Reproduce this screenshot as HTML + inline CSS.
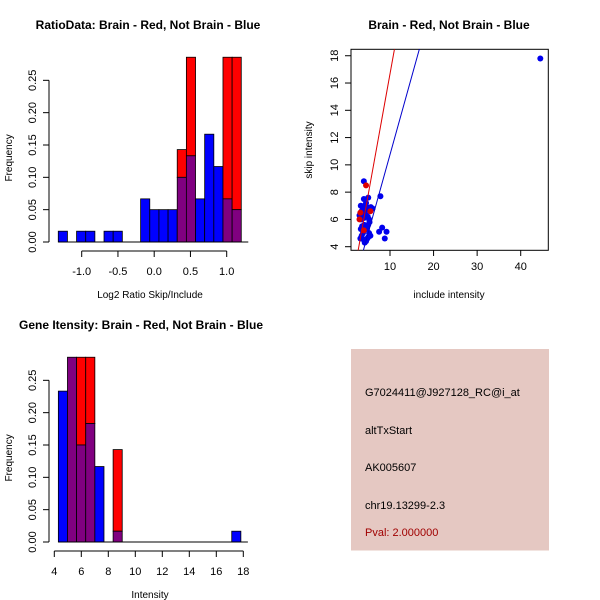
<!DOCTYPE html>
<html><head><meta charset="utf-8"><style>
body{margin:0;background:#fff}
svg{display:block;font-family:"Liberation Sans",sans-serif}
</style></head><body>
<svg id="c" width="600" height="600" xmlns="http://www.w3.org/2000/svg">
<rect x="351" y="349" width="198" height="201.5" fill="#e5c8c2"/>
<text x="365" y="396" font-size="11" fill="#000">G7024411@J927128_RC@i_at</text>
<text x="365" y="434" font-size="11" fill="#000">altTxStart</text>
<text x="365" y="471" font-size="11" fill="#000">AK005607</text>
<text x="365" y="509" font-size="11" fill="#000">chr19.13299-2.3</text>
<text x="365" y="536" font-size="11" fill="#a00000">Pval: 2.000000</text>
</svg>
<script>
// Histogram 1 data
const ratioBlue=[0.0167,0,0.0167,0.0167,0,0.0167,0.0167,0,0,0.0667,0.05,0.05,0.05,0.1,0.1333,0.0667,0.1667,0.1167,0.0667,0.05];
const ratioRed=[0,0,0,0,0,0,0,0,0,0,0,0,0,0.1429,0.2857,0,0,0,0.2857,0.2857];
const ratioStart=-1.323, ratioBin=0.1262;
const ratioTicks=[-1.0,-0.5,0.0,0.5,1.0];
// Histogram 2 data
const intBlue=[0.2333,0.2857,0.15,0.1833,0.1167,0,0.0167,0,0,0,0,0,0,0,0,0,0,0,0,0.0167];
const intRed=[0,0.2857,0.2857,0.2857,0,0,0.1429,0,0,0,0,0,0,0,0,0,0,0,0,0];
const intStart=4.30, intBin=0.676;
const intTicks=[4,6,8,10,12,14,16,18];
const freqTicks=[0,0.05,0.1,0.15,0.2,0.25];
const freqLabels=["0.00","0.05","0.10","0.15","0.20","0.25"];
// Scatter data
const blueInc=[3.2,3.5,3.8,4.0,4.2,4.5,4.8,5.0,5.2,5.5,3.3,3.6,3.9,4.1,4.4,4.7,5.0,5.3,3.4,3.7,4.0,4.3,4.6,4.9,5.2,3.5,3.8,4.1,4.4,4.7,5.6,3.0,3.3,4.0,4.5,5.0,7.5,8.2,9.2,8.8,7.8,44.5,4.0,4.3,6.0];
const blueSkip=[4.6,4.8,5.0,4.5,4.3,4.4,4.6,4.7,5.0,4.8,5.3,5.5,5.2,5.6,5.4,5.3,5.6,5.8,6.0,6.2,6.1,6.4,6.3,6.2,6.0,6.6,6.8,7.0,6.7,6.9,6.9,6.3,7.0,7.5,7.2,7.6,5.1,5.4,5.1,4.6,7.7,17.8,8.8,6.9,6.8];
const redInc=[3.0,3.2,4.5,5.5,4.0];
const redSkip=[6.0,6.5,8.5,6.6,5.2];
const redFit=[-1.03,1.77], blueFit=[-0.73,1.148];
const xTicks=[10,20,30,40], yTicks=[4,6,8,10,12,14,16,18];

const svg=document.getElementById('c');
const NS='http://www.w3.org/2000/svg';
function mk(tag,attrs,parent){const e=document.createElementNS(NS,tag);for(const k in attrs)e.setAttribute(k,attrs[k]);(parent||svg).appendChild(e);return e;}
function txt(x,y,s,size,extra){const t=mk('text',Object.assign({x:x,y:y,'font-size':size,'text-anchor':'middle',fill:'#000'},extra||{}));t.textContent=s;return t;}

function hist(blue,red,start,bin,xs,ys,ticks,axisX0,axisX1,title,xlab,tx,ty,ylabX,xlabY,prefix){
  const g=mk('g',{});
  
  
  for(let i=0;i<blue.length;i++){
    const x0=xs(start+i*bin), x1=xs(start+(i+1)*bin);
    const b=blue[i], r=red[i];
    const lo=Math.min(b,r), hi=Math.max(b,r);
    if(b>0&&r>0){
      const top=mk('rect',{x:x0,y:ys(hi),width:x1-x0,height:ys(lo)-ys(hi),fill:r>b?'#ff0000':'#0000ff',stroke:'#000','stroke-width':0.8},g);
      
      
      const p=mk('rect',{x:x0,y:ys(lo),width:x1-x0,height:ys(0)-ys(lo),fill:'#800080',stroke:'#000','stroke-width':0.8},g);
      
      
    } else if(hi>0){
      const rr=mk('rect',{x:x0,y:ys(hi),width:x1-x0,height:ys(0)-ys(hi),fill:b>0?'#0000ff':'#ff0000',stroke:'#000','stroke-width':0.8},g);
      
      
    }
  }
  const bl=mk('line',{x1:xs(start),x2:xs(start+blue.length*bin)+7,y1:ys(0),y2:ys(0),stroke:'#000','stroke-width':1},g);
  
  
  // y axis
  const yax=mk('line',{x1:49,x2:49,y1:ys(0),y2:ys(0.25),stroke:'#000'},g);
  
  
  freqTicks.forEach((v,i)=>{mk('line',{x1:43,x2:49,y1:ys(v),y2:ys(v),stroke:'#000'},g);
    const t=txt(36,ys(v),freqLabels[i],11,{transform:`rotate(-90 36 ${ys(v)})`,dy:'0'});
    
    });
  // x axis
  const xy=ys(0)+9;
  const xax=mk('line',{x1:axisX0,x2:axisX1,y1:xy,y2:xy,stroke:'#000'},g);
  
  
  ticks.forEach(v=>{mk('line',{x1:xs(v),x2:xs(v),y1:xy,y2:xy+6,stroke:'#000'},g);
    const t=txt(xs(v),xy+24,v.toFixed(v%1||prefix==='ratio'?1:0),11);
    
    });
  const ti=txt(tx,ty,title,12,{'font-weight':'bold'});
  
  
  const xl=txt(150,xlabY,xlab,10);
  
  
  const yl=txt(ylabX,ys(0.13),'Frequency',10,{transform:`rotate(-90 ${ylabX} ${ys(0.13)})`});
  
  
}
const fs1=v=>242-v*646.7;
const rx=v=>154.2+v*72.5;
hist(ratioBlue,ratioRed,ratioStart,ratioBin,rx,fs1,ratioTicks,rx(-1),rx(1),'RatioData: Brain - Red, Not Brain - Blue','Log2 Ratio Skip/Include',148,29,12,298,'ratio');
const fs2=v=>542-v*646.7;
const ix=v=>54.3+(v-4)*13.5;
hist(intBlue,intRed,intStart,intBin,ix,fs2,intTicks,ix(4),ix(18),'Gene Itensity: Brain - Red, Not Brain - Blue','Intensity',141,329,12,598,'intensity');

// Scatter
const sx=v=>390+(v-10)*4.357, sy=v=>246.7-(v-4)*13.64;
const sg=mk('g',{});


const cp=mk('clipPath',{id:'cp'},sg);mk('rect',{x:351,y:49.3,width:197.3,height:201},cp);
const fr=mk('rect',{x:351,y:49.3,width:197.3,height:201,fill:'none',stroke:'#000'},sg);


blueInc.forEach((v,i)=>{const c=mk('circle',{cx:sx(v),cy:sy(blueSkip[i]),r:3,fill:'#0000ee'},sg);
  
  });
redInc.forEach((v,i)=>{const c=mk('circle',{cx:sx(v),cy:sy(redSkip[i]),r:3,fill:'#dd0000'},sg);
  
  });
[[redFit,'#dd0000','red-fit-line'],[blueFit,'#0000cc','blue-fit-line']].forEach(([f,col,n])=>{
  const l=mk('line',{x1:sx(0),y1:sy(f[0]),x2:sx(20),y2:sy(f[0]+f[1]*20),stroke:col,'stroke-width':1,'clip-path':'url(#cp)'},sg);
  
  });
xTicks.forEach(v=>{mk('line',{x1:sx(v),x2:sx(v),y1:250.3,y2:256,stroke:'#000'},sg);
  const t=txt(sx(v),270,String(v),11);
  
  });
yTicks.forEach(v=>{mk('line',{x1:345,x2:351,y1:sy(v),y2:sy(v),stroke:'#000'},sg);
  const t=txt(338,sy(v),String(v),11,{transform:`rotate(-90 338 ${sy(v)})`});
  
  });
const st=txt(449,29,'Brain - Red, Not Brain - Blue',12,{'font-weight':'bold'});


const sxl=txt(449,298,'include intensity',10);


const syl=txt(312,150,'skip intensity',10,{transform:'rotate(-90 312 150)'});


</script>
</body></html>
